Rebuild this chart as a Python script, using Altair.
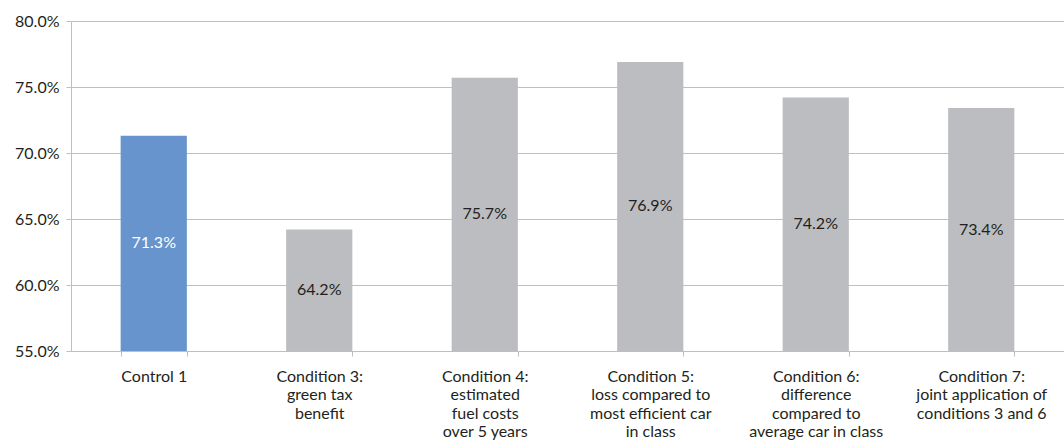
import altair as alt
import pandas as pd

categories = [
    "Control 1",
    "Condition 3:|green tax|benefit",
    "Condition 4:|estimated|fuel costs|over 5 years",
    "Condition 5:|loss compared to|most efficient car|in class",
    "Condition 6:|difference|compared to|average car in class",
    "Condition 7:|joint application of|conditions 3 and 6",
]
values = [0.713, 0.642, 0.757, 0.769, 0.742, 0.734]
groups = ["control", "treatment", "treatment", "treatment", "treatment", "treatment"]

BASE = 0.55
FONT = "Lato"
SIZE = 16
INK = "#231f20"
LINE = "#bfbfbf"

df = pd.DataFrame({"category": categories, "value": values, "group": groups})

x = alt.X(
    "category:N",
    sort=categories,
    scale=alt.Scale(paddingInner=0.6, paddingOuter=0.3),
    axis=alt.Axis(
        title=None,
        labelAngle=0,
        labelExpr="split(datum.label, '|')",
        labelFont=FONT,
        labelFontSize=SIZE,
        labelLineHeight=18.5,
        labelColor=INK,
        labelBaseline="alphabetic",
        labelPadding=25,
        tickBand="extent",
        tickSize=5,
        tickColor=LINE,
        domainColor=LINE,
    ),
)

y = alt.Y(
    "value:Q",
    scale=alt.Scale(domain=[BASE, 0.80], zero=False, nice=False),
    axis=alt.Axis(
        title=None,
        format=".1%",
        values=[0.55, 0.60, 0.65, 0.70, 0.75, 0.80],
        labelFont=FONT,
        labelFontSize=SIZE,
        labelColor=INK,
        labelPadding=7,
        tickSize=5,
        tickColor=LINE,
        domainColor=LINE,
        gridColor=LINE,
        gridWidth=1,
    ),
)

bars = alt.Chart(df).mark_bar().encode(
    x=x,
    y=y,
    y2=alt.datum(BASE),
    color=alt.Color(
        "group:N",
        scale=alt.Scale(domain=["control", "treatment"], range=["#6794cc", "#bcbdc0"]),
        legend=None,
    ),
)

# value labels sit halfway up each bar
labels = (
    alt.Chart(df)
    .transform_calculate(mid=f"(datum.value + {BASE}) / 2")
    .mark_text(font=FONT, fontSize=SIZE, baseline="middle")
    .encode(
        x=alt.X("category:N", sort=categories),
        y=alt.Y("mid:Q"),
        text=alt.Text("value:Q", format=".1%"),
        color=alt.Color(
            "group:N",
            scale=alt.Scale(domain=["control", "treatment"], range=["#ffffff", INK]),
            legend=None,
        ),
    )
)

chart = (
    alt.layer(bars, labels)
    .resolve_scale(color="independent")
    .properties(
        width=993,
        height=330,
        autosize=alt.AutoSizeParams(type="none"),
        padding={"left": 71, "top": 21, "right": 0, "bottom": 90},
    )
    .configure_view(stroke=None)
)

chart.save("out.html", embed_options={"renderer": "svg", "actions": False})
